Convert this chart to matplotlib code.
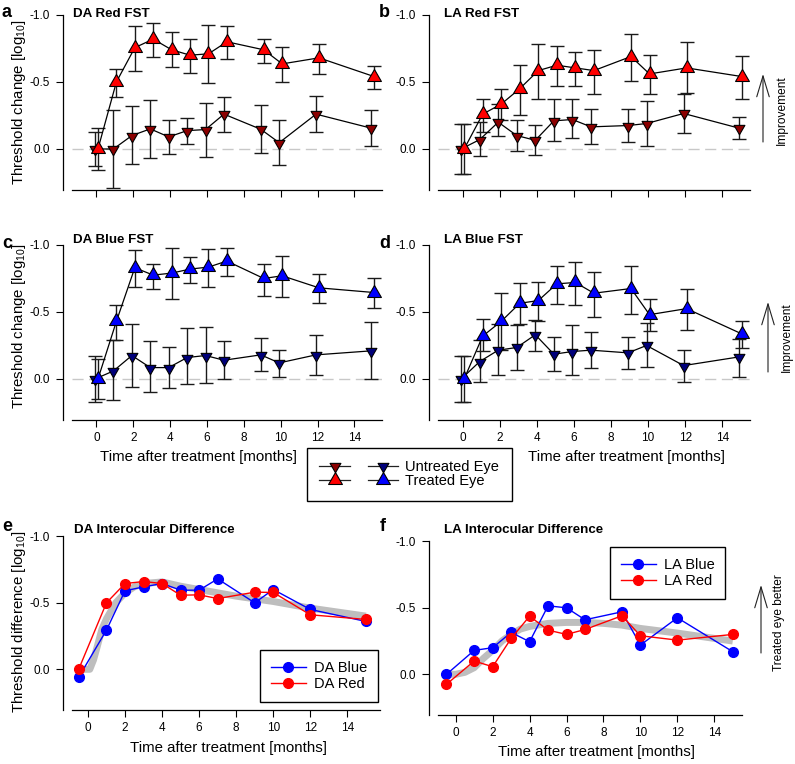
import matplotlib
matplotlib.use("Agg")
import matplotlib.pyplot as plt
import numpy as np
from matplotlib.path import Path
from matplotlib.lines import Line2D
from matplotlib.legend_handler import HandlerTuple

plt.rcParams['font.family'] = ['Liberation Sans', 'DejaVu Sans']
plt.rcParams['mathtext.fontset'] = 'custom'
plt.rcParams['mathtext.rm'] = 'Liberation Sans'
plt.rcParams['mathtext.it'] = 'Liberation Sans:italic'
plt.rcParams['mathtext.bf'] = 'Liberation Sans:bold'

# ---------------- data ----------------
months = [0, 1, 2, 3, 4, 5, 6, 7, 9, 10, 12, 15]
xticks = [0, 2, 4, 6, 8, 10, 12, 14]
yticks = [-1.0, -0.5, 0.0]
ytick_labels = ['-1.0', '-0.5', '0.0']

# DA Red FST
da_red_tr = [0.0, -0.50, -0.756, -0.82, -0.74, -0.70, -0.71, -0.80, -0.74, -0.635, -0.68, -0.54]
da_red_tr_top = [-0.155, -0.60, -0.92, -0.94, -0.87, -0.82, -0.925, -0.92, -0.82, -0.76, -0.78, -0.62]
da_red_tr_bot = [0.155, -0.39, -0.58, -0.69, -0.61, -0.57, -0.49, -0.67, -0.64, -0.50, -0.56, -0.45]
da_red_un = [0.0, 0.0, -0.10, -0.15, -0.09, -0.137, -0.145, -0.26, -0.147, -0.047, -0.26, -0.155]
da_red_un_top = [-0.13, -0.29, -0.32, -0.365, -0.22, -0.23, -0.345, -0.39, -0.325, -0.22, -0.395, -0.29]
da_red_un_bot = [0.13, 0.29, 0.11, 0.065, 0.04, -0.04, 0.057, -0.13, 0.027, 0.12, -0.127, -0.02]

# LA Red FST
la_red_tr = [0.0, -0.26, -0.335, -0.45, -0.585, -0.625, -0.605, -0.585, -0.69, -0.56, -0.605, -0.54]
la_red_tr_top = [-0.19, -0.37, -0.45, -0.63, -0.78, -0.77, -0.725, -0.74, -0.86, -0.70, -0.795, -0.695]
la_red_tr_bot = [0.19, -0.13, -0.22, -0.25, -0.375, -0.47, -0.47, -0.41, -0.505, -0.41, -0.415, -0.37]
la_red_un = [0.0, -0.07, -0.20, -0.10, -0.065, -0.21, -0.22, -0.165, -0.175, -0.19, -0.265, -0.155]
la_red_un_top = [-0.19, -0.20, -0.335, -0.22, -0.18, -0.37, -0.37, -0.30, -0.30, -0.36, -0.41, -0.235]
la_red_un_bot = [0.19, 0.05, -0.10, 0.015, 0.045, -0.057, -0.08, -0.037, -0.05, -0.022, -0.12, -0.077]

# DA Blue FST
da_blue_tr = [0.0, -0.43, -0.83, -0.775, -0.79, -0.82, -0.835, -0.88, -0.75, -0.77, -0.68, -0.645]
da_blue_tr_top = [-0.15, -0.55, -0.96, -0.86, -0.98, -0.91, -0.97, -0.98, -0.86, -0.92, -0.78, -0.755]
da_blue_tr_bot = [0.15, -0.29, -0.69, -0.67, -0.595, -0.715, -0.69, -0.77, -0.62, -0.615, -0.57, -0.527]
da_blue_un = [0.0, -0.06, -0.175, -0.085, -0.085, -0.16, -0.175, -0.14, -0.18, -0.12, -0.18, -0.21]
da_blue_un_top = [-0.17, -0.29, -0.41, -0.28, -0.235, -0.38, -0.39, -0.28, -0.305, -0.22, -0.33, -0.425]
da_blue_un_bot = [0.17, 0.157, 0.06, 0.10, 0.065, 0.04, 0.027, 0.0, -0.062, -0.017, -0.027, 0.0]

# LA Blue FST
la_blue_tr = [0.0, -0.32, -0.43, -0.565, -0.585, -0.71, -0.72, -0.64, -0.675, -0.48, -0.525, -0.335]
la_blue_tr_top = [-0.175, -0.445, -0.64, -0.715, -0.72, -0.84, -0.87, -0.80, -0.84, -0.595, -0.675, -0.435]
la_blue_tr_bot = [0.175, -0.21, -0.22, -0.41, -0.43, -0.56, -0.55, -0.46, -0.485, -0.355, -0.365, -0.23]
la_blue_un = [0.0, -0.13, -0.215, -0.235, -0.33, -0.185, -0.205, -0.215, -0.195, -0.25, -0.10, -0.165]
la_blue_un_top = [-0.175, -0.29, -0.41, -0.40, -0.44, -0.31, -0.40, -0.35, -0.315, -0.42, -0.22, -0.295]
la_blue_un_bot = [0.175, 0.02, -0.03, -0.067, -0.21, -0.062, -0.03, -0.085, -0.075, -0.087, 0.02, -0.017]

# Interocular differences
x_diff = [-0.5, 1, 2, 3, 4, 5, 6, 7, 9, 10, 12, 15]
da_blue_diff = [0.06, -0.295, -0.59, -0.62, -0.645, -0.595, -0.595, -0.68, -0.50, -0.60, -0.45, -0.36]
da_red_diff = [0.0, -0.50, -0.645, -0.66, -0.645, -0.557, -0.56, -0.532, -0.58, -0.578, -0.41, -0.375]
la_blue_diff = [0.0, -0.18, -0.20, -0.315, -0.245, -0.515, -0.50, -0.41, -0.47, -0.22, -0.425, -0.17]
la_red_diff = [0.075, -0.10, -0.057, -0.27, -0.437, -0.332, -0.30, -0.337, -0.44, -0.29, -0.257, -0.30]

# grey fitted curves
da_fit_x = [-0.5, 0.1, 0.3, 0.5, 0.75, 1, 1.5, 2, 2.5, 3, 4, 5, 6, 8, 10, 12, 15]
da_fit_y = [0.0, 0.0, -0.07, -0.17, -0.30, -0.38, -0.50, -0.575, -0.62, -0.645, -0.657, -0.625, -0.60, -0.55, -0.51, -0.46, -0.40]
la_fit_x = [-0.5, 0, 0.5, 1, 1.5, 2, 2.5, 3, 3.5, 4, 5, 6, 7, 8, 9, 10, 12, 15]
la_fit_y = [0.0, 0.0, -0.015, -0.05, -0.12, -0.18, -0.25, -0.30, -0.34, -0.36, -0.383, -0.39, -0.39, -0.383, -0.37, -0.345, -0.31, -0.25]

# ---------------- style ----------------
W, H = 795, 764
fig = plt.figure(figsize=(W / 100, H / 100), dpi=100)
fig.patch.set_facecolor('white')

def P(x, y):
    return (x / W, 1 - y / H)

def add_axes(l, t, r, b):
    return fig.add_axes([l / W, 1 - b / H, (r - l) / W, (b - t) / H])

TRI_UP = Path([(0, 1), (-0.866, -0.5), (0.866, -0.5), (0, 0)],
              [Path.MOVETO, Path.LINETO, Path.LINETO, Path.CLOSEPOLY])
TRI_DN = Path([(0, -1), (-0.866, 0.5), (0.866, 0.5), (0, 0)],
              [Path.MOVETO, Path.LINETO, Path.LINETO, Path.CLOSEPOLY])

DARKRED = '#8B0000'
NAVY = '#00007A'
TICK_FS = 8.5
LAB_FS = 10.8
TITLE_FS = 9.6
YBOT = 0.306
OFF = 0.08

def style_axes(ax, xlim, ytop, show_xlabels=True):
    ax.set_xlim(*xlim)
    ax.set_ylim(YBOT, ytop)
    for s in ['top', 'right']:
        ax.spines[s].set_visible(False)
    ax.spines['left'].set_position(('outward', 6.5))
    ax.spines['left'].set_bounds(-1.0, YBOT)
    for s in ['left', 'bottom']:
        ax.spines[s].set_linewidth(0.9)
    ax.set_xticks(xticks)
    ax.set_xticklabels([str(t) for t in xticks])
    ax.set_yticks(yticks)
    ax.set_yticklabels(ytick_labels)
    ax.tick_params(direction='out', length=5, width=0.8, labelsize=TICK_FS, pad=3.5)
    ax.tick_params(axis='y', pad=4.5)
    if not show_xlabels:
        ax.tick_params(axis='x', labelbottom=False)

def fst_panel(ax, tr, tr_top, tr_bot, un, un_top, un_bot, c_tr, c_un):
    ax.axhline(0, color='#C8C8C8', lw=1.0, ls=(0, (8, 4)), zorder=0)
    x = np.array(months, dtype=float)
    for xs, m, t, b, c, mk, ms in [(x - OFF, un, un_top, un_bot, c_un, TRI_DN, 9),
                                   (x + OFF, tr, tr_top, tr_bot, c_tr, TRI_UP, 11.5)]:
        m = np.array(m); t = np.array(t); b = np.array(b)
        yerr = [np.clip(m - t, 0, None), np.clip(b - m, 0, None)]
        ax.errorbar(xs, m, yerr=yerr, fmt='none', ecolor='#1a1a1a', elinewidth=1.0,
                    capsize=4.7, capthick=1.0, zorder=2)
        ax.plot(xs, m, color='black', lw=0.9, marker=mk, ms=ms, mfc=c, mec='black',
                mew=0.8, zorder=3)

# axes boxes in pixels (left, top, right, bottom)
ax_a = add_axes(72, 10, 382, 190)
ax_b = add_axes(438, 10, 750, 190)
ax_c = add_axes(72, 240, 382, 420)
ax_d = add_axes(438, 240, 750, 420)
ax_e = add_axes(72, 531, 380, 710)
ax_f = add_axes(438, 536, 742, 715)

XL_TOP = (-1.33, 15.5)
fst_panel(ax_a, da_red_tr, da_red_tr_top, da_red_tr_bot, da_red_un, da_red_un_top, da_red_un_bot, 'red', DARKRED)
fst_panel(ax_b, la_red_tr, la_red_tr_top, la_red_tr_bot, la_red_un, la_red_un_top, la_red_un_bot, 'red', DARKRED)
fst_panel(ax_c, da_blue_tr, da_blue_tr_top, da_blue_tr_bot, da_blue_un, da_blue_un_top, da_blue_un_bot, 'blue', NAVY)
fst_panel(ax_d, la_blue_tr, la_blue_tr_top, la_blue_tr_bot, la_blue_un, la_blue_un_top, la_blue_un_bot, 'blue', NAVY)
style_axes(ax_a, XL_TOP, -1.037, False)
style_axes(ax_b, XL_TOP, -1.037, False)
style_axes(ax_c, XL_TOP, -1.037, True)
style_axes(ax_d, XL_TOP, -1.037, True)

def diff_panel(ax, fx, fy, yb, yr, lb, lr):
    ax.plot(fx, fy, color='#BEBEBE', lw=5, solid_capstyle='butt', zorder=1)
    ax.plot(x_diff, yb, color='blue', lw=1.0, marker='o', ms=7, mfc='blue', mec='blue', zorder=3, label=lb)
    ax.plot(x_diff, yr, color='red', lw=1.0, marker='o', ms=7, mfc='red', mec='red', zorder=4, label=lr)

diff_panel(ax_e, da_fit_x, da_fit_y, da_blue_diff, da_red_diff, 'DA Blue', 'DA Red')
diff_panel(ax_f, la_fit_x, la_fit_y, la_blue_diff, la_red_diff, 'LA Blue', 'LA Red')
style_axes(ax_e, (-0.86, 15.76), -1.04, True)
style_axes(ax_f, (-0.96, 15.5), -1.04, True)

leg_kw = dict(fontsize=10.5, frameon=True, fancybox=False, edgecolor='black', framealpha=1,
              handlelength=2.4, handletextpad=0.55, borderpad=0.75, labelspacing=0.12,
              numpoints=1, borderaxespad=0)
le = ax_e.legend(loc='lower right', bbox_to_anchor=(0.994, 0.045), **leg_kw)
le.get_frame().set_linewidth(1.0)
lf = ax_f.legend(loc='upper right', bbox_to_anchor=(0.945, 0.939), **leg_kw)
lf.get_frame().set_linewidth(1.0)

# middle legend
def h(mk, ms, c):
    return Line2D([], [], color='#222222', lw=0.9, marker=mk, ms=ms, mfc=c, mec='black', mew=0.8)
h_un = (h(TRI_DN, 9, DARKRED), h(TRI_DN, 9, NAVY))
h_tr = (h(TRI_UP, 11.5, 'red'), h(TRI_UP, 11.5, 'blue'))
lm = fig.legend([h_un, h_tr], ['Untreated Eye', 'Treated Eye'],
                handler_map={tuple: HandlerTuple(ndivide=None, pad=1.2)},
                loc='upper left', bbox_to_anchor=P(307, 448), bbox_transform=fig.transFigure,
                fontsize=10.5, frameon=True, fancybox=False, edgecolor='black', framealpha=1,
                handlelength=5.4, handletextpad=0.5, borderpad=0.85, labelspacing=0.0,
                numpoints=1, borderaxespad=0)
lm.get_frame().set_linewidth(1.0)

# titles, panel letters
for txt, x, y in [('DA Red FST', 73, 17), ('LA Red FST', 444, 17),
                  ('DA Blue FST', 73, 243), ('LA Blue FST', 444, 243),
                  ('DA Interocular Difference', 74, 533), ('LA Interocular Difference', 444, 533)]:
    fig.text(*P(x, y), txt, ha='left', va='baseline', fontsize=TITLE_FS, fontweight='bold')
for txt, x, y in [('a', 2, 17), ('b', 379, 17), ('c', 2, 248), ('d', 379, 248),
                  ('e', 2, 531), ('f', 380, 531)]:
    fig.text(*P(x, y), txt, ha='left', va='baseline', fontsize=13, fontweight='bold')

# axis labels
for txt, y in [('Threshold change [log$_{10}$]', 102), ('Threshold change [log$_{10}$]', 326),
               ('Threshold difference [log$_{10}$]', 622)]:
    fig.text(*P(19.5, y), txt, rotation=90, ha='center', va='center', fontsize=LAB_FS)
for x, y in [(198, 457), (626, 457), (229, 748), (597, 752)]:
    fig.text(*P(x, y), 'Time after treatment [months]', ha='center', va='center', fontsize=LAB_FS)

# improvement arrows
arrow_kw = dict(arrowstyle='->,head_length=1.5,head_width=0.45', lw=0.8, color='#222222',
                shrinkA=0, shrinkB=0, mutation_scale=10)
for ax, x, y0, y1, txt, tx, ty in [(ax_b, 763, 142, 74, 'Improvement', 782, 110),
                                   (ax_d, 768, 372, 302, 'Improvement', 787, 337),
                                   (ax_f, 761, 653, 585, 'Treated eye better', 779, 623)]:
    ax.annotate('', xy=P(x, y1), xytext=P(x, y0), xycoords='figure fraction',
                textcoords='figure fraction', arrowprops=arrow_kw, annotation_clip=False)
    fig.text(*P(tx, ty), txt, rotation=90, ha='center', va='center', fontsize=8.6)

fig.savefig('out.png', dpi=100, facecolor='white')
